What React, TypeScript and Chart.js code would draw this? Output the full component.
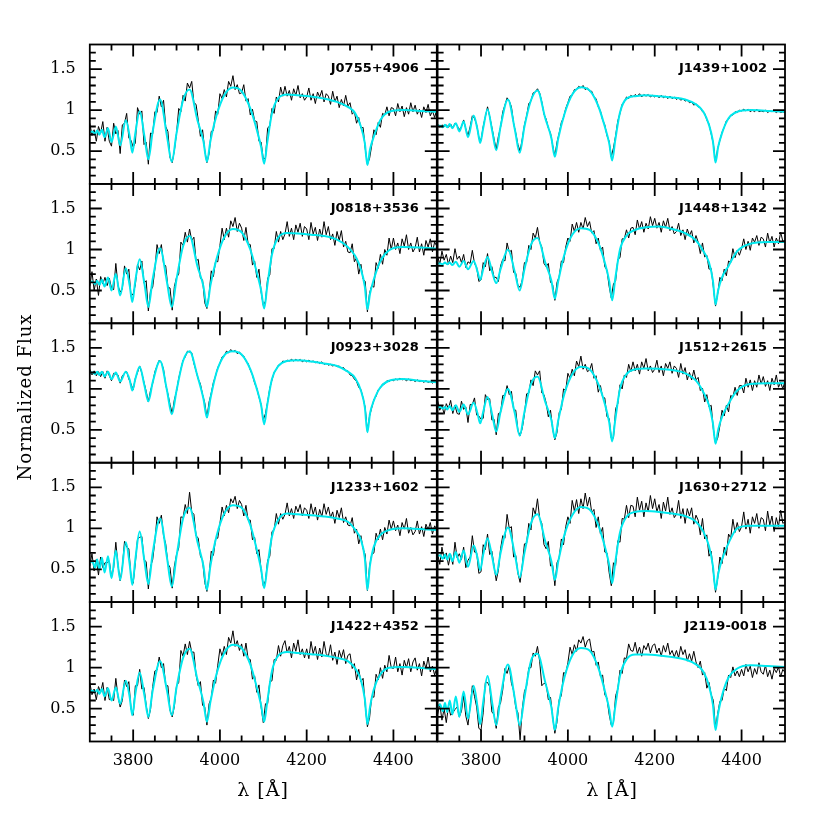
import React, { useEffect, useRef } from 'react';
import { Chart, registerables } from 'chart.js';
Chart.register(...registerables);

// ---------- data ----------
const WAVE = [
  3700, 3705, 3710, 3715, 3720, 3725, 3730, 3735, 3740, 3745,
  3750, 3755, 3760, 3765, 3770, 3775, 3780, 3785, 3790, 3795,
  3800, 3805, 3810, 3815, 3820, 3825, 3830, 3835, 3840, 3845,
  3850, 3855, 3860, 3865, 3870, 3875, 3880, 3885, 3890, 3895,
  3900, 3905, 3910, 3915, 3920, 3925, 3930, 3935, 3940, 3945,
  3950, 3955, 3960, 3965, 3970, 3975, 3980, 3985, 3990, 3995,
  4000, 4005, 4010, 4015, 4020, 4025, 4030, 4035, 4040, 4045,
  4050, 4055, 4060, 4065, 4070, 4075, 4080, 4085, 4090, 4095,
  4100, 4105, 4110, 4115, 4120, 4125, 4130, 4135, 4140, 4145,
  4150, 4155, 4160, 4165, 4170, 4175, 4180, 4185, 4190, 4195,
  4200, 4205, 4210, 4215, 4220, 4225, 4230, 4235, 4240, 4245,
  4250, 4255, 4260, 4265, 4270, 4275, 4280, 4285, 4290, 4295,
  4300, 4305, 4310, 4315, 4320, 4325, 4330, 4335, 4340, 4345,
  4350, 4355, 4360, 4365, 4370, 4375, 4380, 4385, 4390, 4395,
  4400, 4405, 4410, 4415, 4420, 4425, 4430, 4435, 4440, 4445,
  4450, 4455, 4460, 4465, 4470, 4475, 4480, 4485, 4490, 4495, 4500,
];

const MODEL_WAVE = [
  3700, 3706, 3712, 3717, 3722, 3728, 3734, 3742, 3750, 3760,
  3770, 3783, 3792, 3798, 3805, 3815, 3826, 3835, 3845, 3862,
  3878, 3889, 3900, 3915, 3930, 3948, 3962, 3970, 3978, 3992,
  4010, 4030, 4050, 4070, 4085, 4095, 4102, 4109, 4120, 4135,
  4155, 4180, 4210, 4240, 4270, 4295, 4312, 4325, 4334, 4340,
  4346, 4355, 4370, 4390, 4420, 4460, 4500,
];

const X_MAJOR = [3800, 4000, 4200, 4400];
const X_MINOR = [3750, 3850, 3900, 3950, 4050, 4100, 4150, 4250, 4300, 4350, 4450];
const Y_MAJOR = [0.5, 1, 1.5];
const Y_MINOR = [0.2, 0.3, 0.4, 0.6, 0.7, 0.8, 0.9, 1.1, 1.2, 1.3, 1.4, 1.6, 1.7];

const NAMES = [
  'J0755+4906', 'J1439+1002',
  'J0818+3536', 'J1448+1342',
  'J0923+3028', 'J1512+2615',
  'J1233+1602', 'J1630+2712',
  'J1422+4352', 'J2119-0018',
];

// J0755+4906
const FLUX_J0755 = [
  .84, .69, .76, .62, .80, .72, .86, .62, .79, .62,
  .56, .84, .71, .75, .47, .82, .84, .96, .66, .63,
  .55, .60, 1.03, .95, .99, .58, .61, .34, .72, .71,
  .98, .97, 1.17, 1.04, 1.12, .80, .74, .42, .36, .51,
  .72, 1.02, .98, 1.18, 1.11, 1.33, 1.27, 1.35, 1.09, 1.07,
  .88, .68, .76, .51, .36, .47, .74, .75, .99, .95,
  1.20, 1.14, 1.25, 1.16, 1.35, 1.29, 1.42, 1.25, 1.31, 1.20,
  1.21, 1.31, 1.11, 1.14, .94, 1.01, .87, .86, .62, .61,
  .40, .42, .78, .81, 1.02, .96, 1.16, 1.10, 1.28, 1.17,
  1.29, 1.17, 1.24, 1.12, 1.26, 1.18, 1.30, 1.15, 1.20, 1.12,
  1.16, 1.27, 1.12, 1.20, 1.08, 1.22, 1.16, 1.24, 1.10, 1.20,
  1.17, 1.07, 1.23, 1.10, 1.17, 1.03, 1.13, 1.05, 1.18, 1.05,
  1.09, .95, .98, .84, .91, .78, .79, .53, .34, .41,
  .57, .76, .70, .85, .79, .96, .94, 1.04, .93, 1.03,
  1.02, .93, 1.08, .98, 1.05, .92, 1.03, .95, 1.09, .98,
  1.06, .95, 1.01, .91, 1.04, .97, 1.07, .93, .99, .91, 1.01,
];
const MODEL_J0755 = [
  .73, .74, .71, .75, .70, .76, .67, .78, .61, .80,
  .57, .875, .68, .48, .72, .985, .68, .40, .74, 1.13,
  .68, .37, .72, 1.12, 1.25, .88, .62, .37, .62, .93,
  1.18, 1.275, 1.23, 1.02, .76, .55, .345, .60, .96, 1.15,
  1.19, 1.18, 1.165, 1.14, 1.10, 1.04, .96, .80, .60, .33,
  .52, .68, .88, .98, 1.0, .99, .98,
];

// J1439+1002
const FLUX_J1439 = [
  .83, .79, .82, .80, .82, .79, .83, .78, .84, .81,
  .76, .80, .88, .77, .69, .80, .93, .90, .82, .67,
  .63, .80, .92, 1.04, .92, .79, .65, .52, .68, .79,
  .98, 1.06, 1.15, 1.11, 1.04, .84, .72, .58, .50, .65,
  .82, .93, 1.08, 1.11, 1.21, 1.22, 1.26, 1.21, 1.10, .95,
  .89, .78, .72, .57, .44, .61, .72, .85, .91, 1.02,
  1.09, 1.17, 1.18, 1.25, 1.25, 1.29, 1.27, 1.30, 1.25, 1.27,
  1.23, 1.23, 1.16, 1.14, 1.04, .99, .88, .82, .69, .62,
  .43, .54, .69, .87, .96, 1.07, 1.10, 1.16, 1.14, 1.18,
  1.16, 1.19, 1.17, 1.20, 1.16, 1.19, 1.17, 1.19, 1.16, 1.18,
  1.16, 1.18, 1.15, 1.18, 1.15, 1.17, 1.14, 1.17, 1.14, 1.16,
  1.13, 1.15, 1.12, 1.14, 1.11, 1.12, 1.09, 1.10, 1.06, 1.08,
  1.04, 1.03, .98, .96, .88, .83, .71, .59, .37, .53,
  .63, .73, .79, .87, .89, .94, .94, .98, .97, 1.00,
  .99, 1.01, .99, 1.01, .98, 1.00, .98, 1.01, .98, .99,
  .98, 1.00, .97, .99, .98, .99, .97, .99, .97, .98, .97,
];
const MODEL_J1439 = [
  .81, .81, .79, .82, .79, .83, .78, .84, .74, .86,
  .67, .935, .76, .60, .78, 1.01, .74, .51, .80, 1.13,
  .76, .48, .80, 1.12, 1.24, .90, .66, .43, .66, .95,
  1.19, 1.28, 1.24, 1.05, .80, .60, .385, .63, .97, 1.14,
  1.17, 1.18, 1.17, 1.155, 1.13, 1.07, .98, .82, .62, .36,
  .55, .72, .90, .98, 1.0, .99, .98,
];

// J0818+3536
const FLUX_J0818 = [
  .55, .73, .50, .64, .44, .67, .58, .66, .56, .65,
  .53, .51, .83, .56, .48, .52, .80, .70, .76, .43,
  .46, .57, .82, .75, .86, .59, .62, .25, .50, .54,
  .76, 1.06, .95, 1.06, .83, .80, .54, .53, .26, .55,
  .66, .70, 1.09, 1.05, 1.21, 1.09, 1.25, 1.11, 1.15, .86,
  .88, .65, .63, .35, .28, .46, .74, .67, .86, .85,
  1.05, 1.26, 1.12, 1.26, 1.15, 1.35, 1.28, 1.39, 1.22, 1.32,
  1.26, 1.11, 1.27, 1.07, 1.06, .81, .86, .66, .76, .48,
  .32, .37, .65, .69, 1.01, 1.01, 1.22, 1.09, 1.22, 1.12,
  1.19, 1.34, 1.16, 1.26, 1.12, 1.30, 1.21, 1.32, 1.16, 1.28,
  1.25, 1.12, 1.33, 1.19, 1.27, 1.11, 1.25, 1.15, 1.34, 1.18,
  1.28, 1.12, 1.19, 1.05, 1.22, 1.11, 1.23, 1.03, 1.10, .97,
  .96, 1.07, .85, .90, .70, .82, .64, .61, .24, .47,
  .56, .54, .84, .77, .94, .82, 1.00, .93, 1.14, 1.00,
  1.14, 1.00, 1.08, .95, 1.13, 1.04, 1.18, 1.00, 1.08, .97,
  1.02, 1.15, .97, 1.07, .93, 1.11, 1.03, 1.13, .97, 1.09, 1.04,
];
const MODEL_J0818 = [
  .60, .61, .58, .62, .57, .63, .55, .66, .50, .70,
  .44, .77, .56, .36, .62, .88, .58, .30, .64, 1.015,
  .60, .30, .64, 1.04, 1.165, .80, .55, .30, .56, .88,
  1.15, 1.25, 1.21, 1.0, .72, .50, .28, .55, .94, 1.15,
  1.20, 1.195, 1.18, 1.165, 1.12, 1.03, .92, .76, .55, .27,
  .46, .64, .86, .99, 1.03, 1.025, 1.01,
];

// J1448+1342
const FLUX_J1448 = [
  .92, .82, .98, .87, .94, .82, .92, .84, 1.01, .88,
  .92, .84, .94, .78, .85, .83, .99, .83, .78, .61,
  .63, .84, .79, .95, .74, .79, .66, .66, .61, .80,
  .88, .86, 1.08, .97, .99, .72, .71, .56, .54, .63,
  .84, .84, 1.05, 1.00, 1.20, 1.14, 1.27, 1.09, 1.03, .83,
  .79, .83, .60, .57, .38, .60, .67, .86, .84, 1.03,
  1.14, 1.10, 1.31, 1.22, 1.33, 1.21, 1.33, 1.25, 1.39, 1.28,
  1.34, 1.20, 1.23, 1.07, 1.14, .99, 1.03, .79, .75, .55,
  .41, .58, .62, .88, .90, 1.13, 1.13, 1.24, 1.14, 1.26,
  1.27, 1.18, 1.36, 1.25, 1.34, 1.21, 1.32, 1.25, 1.40, 1.29,
  1.38, 1.26, 1.33, 1.21, 1.35, 1.27, 1.38, 1.23, 1.28, 1.19,
  1.22, 1.32, 1.17, 1.24, 1.12, 1.25, 1.17, 1.23, 1.08, 1.17,
  1.09, .95, 1.08, .91, .93, .76, .77, .54, .31, .46,
  .66, .62, .76, .68, .86, .84, 1.01, .90, .99, .93,
  1.01, 1.13, 1.00, 1.10, .99, 1.14, 1.09, 1.17, 1.05, 1.15,
  1.13, 1.03, 1.20, 1.08, 1.16, 1.03, 1.14, 1.07, 1.21, 1.10, 1.11,
];
const MODEL_J1448 = [
  .83, .83, .82, .84, .82, .84, .81, .85, .79, .86,
  .76, .86, .73, .63, .76, .91, .72, .59, .76, 1.0,
  .72, .50, .76, 1.06, 1.14, .84, .62, .40, .62, .94,
  1.18, 1.26, 1.24, 1.08, .84, .62, .38, .64, 1.0, 1.17,
  1.24, 1.27, 1.28, 1.25, 1.20, 1.11, .98, .84, .62, .33,
  .50, .66, .80, .98, 1.07, 1.09, 1.09,
];

// J0923+3028
const FLUX_J0923 = [
  1.24, 1.17, 1.22, 1.16, 1.21, 1.15, 1.21, 1.13, 1.22, 1.16,
  1.10, 1.19, 1.18, 1.17, 1.07, 1.16, 1.19, 1.21, 1.12, 1.06,
  .99, 1.13, 1.20, 1.28, 1.19, 1.08, .97, .84, .98, 1.07,
  1.21, 1.28, 1.35, 1.32, 1.24, 1.05, .94, .81, .70, .87,
  .97, 1.13, 1.24, 1.35, 1.39, 1.46, 1.45, 1.44, 1.31, 1.22,
  1.12, 1.06, .93, .83, .65, .84, .95, 1.08, 1.16, 1.26,
  1.31, 1.39, 1.40, 1.46, 1.44, 1.48, 1.45, 1.47, 1.43, 1.45,
  1.41, 1.40, 1.34, 1.31, 1.23, 1.17, 1.07, 1.01, .90, .81,
  .62, .70, .84, 1.01, 1.11, 1.20, 1.24, 1.29, 1.30, 1.34,
  1.33, 1.35, 1.34, 1.36, 1.34, 1.36, 1.34, 1.36, 1.33, 1.35,
  1.33, 1.35, 1.33, 1.34, 1.32, 1.33, 1.31, 1.33, 1.30, 1.31,
  1.29, 1.30, 1.28, 1.29, 1.27, 1.28, 1.25, 1.26, 1.22, 1.22,
  1.17, 1.16, 1.12, 1.09, 1.02, .99, .89, .77, .48, .67,
  .77, .87, .91, .99, 1.01, 1.06, 1.06, 1.10, 1.09, 1.11,
  1.10, 1.12, 1.11, 1.13, 1.11, 1.12, 1.10, 1.12, 1.10, 1.11,
  1.09, 1.11, 1.09, 1.10, 1.08, 1.10, 1.08, 1.09, 1.07, 1.09, 1.07,
];
const MODEL_J0923 = [
  1.20, 1.20, 1.18, 1.21, 1.17, 1.21, 1.15, 1.21, 1.12, 1.20,
  1.09, 1.21, 1.11, .98, 1.12, 1.27, 1.04, .85, 1.08, 1.34,
  .98, .69, .98, 1.34, 1.46, 1.16, .88, .65, .88, 1.20,
  1.41, 1.46, 1.42, 1.24, 1.0, .80, .57, .80, 1.12, 1.28,
  1.34, 1.35, 1.335, 1.31, 1.28, 1.21, 1.13, .98, .78, .47,
  .70, .86, 1.02, 1.10, 1.12, 1.10, 1.08,
];

// J1512+2615
const FLUX_J1512 = [
  .86, .74, .80, .69, .82, .76, .86, .70, .80, .70,
  .69, .85, .75, .78, .59, .81, .81, .89, .68, .67,
  .63, .64, .93, .87, .88, .62, .63, .44, .70, .71,
  .92, .92, 1.04, .93, .97, .75, .74, .49, .43, .52,
  .69, .94, .95, 1.11, 1.04, 1.22, 1.17, 1.22, .95, .93,
  .83, .66, .74, .51, .38, .47, .71, .75, 1.00, .98,
  1.19, 1.13, 1.24, 1.16, 1.34, 1.27, 1.40, 1.24, 1.30, 1.21,
  1.23, 1.31, 1.13, 1.16, .96, 1.04, .90, .89, .66, .64,
  .40, .40, .76, .82, 1.05, 1.00, 1.17, 1.14, 1.30, 1.21,
  1.33, 1.22, 1.30, 1.18, 1.33, 1.25, 1.37, 1.22, 1.28, 1.20,
  1.24, 1.35, 1.20, 1.28, 1.16, 1.31, 1.25, 1.33, 1.19, 1.28,
  1.25, 1.14, 1.31, 1.18, 1.26, 1.11, 1.20, 1.11, 1.23, 1.11,
  1.14, .98, 1.01, .84, .93, .78, .80, .51, .34, .40,
  .55, .74, .67, .80, .72, .92, .90, 1.02, .92, 1.04,
  1.04, .95, 1.13, 1.02, 1.11, .98, 1.10, 1.02, 1.17, 1.06,
  1.15, 1.03, 1.10, .98, 1.13, 1.05, 1.17, 1.02, 1.08, 1.00, 1.10,
];
const MODEL_J1512 = [
  .775, .78, .76, .78, .75, .79, .74, .80, .72, .81,
  .69, .83, .70, .58, .72, .90, .68, .48, .72, 1.0,
  .70, .43, .72, 1.06, 1.15, .84, .62, .40, .62, .94,
  1.18, 1.27, 1.24, 1.06, .82, .60, .36, .62, 1.0, 1.18,
  1.24, 1.25, 1.245, 1.23, 1.19, 1.10, .96, .80, .58, .33,
  .50, .66, .82, .98, 1.06, 1.07, 1.07,
];

// J1233+1602
const FLUX_J1233 = [
  .54, .69, .48, .62, .43, .65, .52, .58, .58, .60,
  .41, .52, .83, .55, .36, .53, .84, .77, .75, .41,
  .33, .58, .87, .89, .90, .62, .59, .26, .53, .62,
  .84, 1.14, 1.06, 1.16, .91, .81, .57, .52, .27, .54,
  .68, .76, 1.14, 1.13, 1.29, 1.18, 1.44, 1.20, 1.17, .91,
  .88, .66, .61, .34, .23, .43, .72, .67, .87, .88,
  1.06, 1.26, 1.15, 1.28, 1.19, 1.36, 1.31, 1.39, 1.24, 1.34,
  1.29, 1.15, 1.28, 1.10, 1.10, .86, .89, .69, .74, .49,
  .30, .36, .61, .66, .96, .98, 1.18, 1.05, 1.18, 1.11,
  1.17, 1.31, 1.15, 1.24, 1.12, 1.27, 1.20, 1.29, 1.15, 1.25,
  1.22, 1.12, 1.30, 1.17, 1.26, 1.10, 1.23, 1.14, 1.30, 1.17,
  1.26, 1.13, 1.20, 1.06, 1.22, 1.13, 1.25, 1.07, 1.14, 1.04,
  1.03, 1.13, .94, .99, .81, .91, .75, .68, .24, .54,
  .68, .70, .94, .86, .99, .86, 1.01, .93, 1.10, .99,
  1.09, .97, 1.04, .91, 1.07, .99, 1.12, .94, 1.01, .92,
  .96, 1.09, .93, 1.02, .90, 1.05, .98, 1.07, .93, 1.03, .99,
];
const MODEL_J1233 = [
  .575, .60, .52, .62, .50, .64, .46, .66, .39, .73,
  .37, .83, .56, .31, .62, .96, .60, .32, .70, 1.12,
  .64, .29, .66, 1.12, 1.25, .84, .54, .25, .54, .90,
  1.18, 1.28, 1.25, 1.04, .74, .50, .27, .52, .90, 1.11,
  1.18, 1.17, 1.16, 1.145, 1.12, 1.08, .98, .86, .64, .25,
  .55, .78, .92, .98, 1.0, .99, .98,
];

// J1630+2712
const FLUX_J1630 = [
  .69, .56, .77, .63, .70, .55, .68, .56, .83, .64,
  .69, .62, .77, .52, .61, .65, .91, .71, .70, .45,
  .47, .80, .74, .93, .68, .72, .54, .36, .49, .75,
  .91, .88, 1.17, 1.00, 1.02, .65, .67, .45, .34, .55,
  .81, .82, 1.06, .98, 1.25, 1.17, 1.36, 1.12, 1.06, .80,
  .75, .84, .54, .55, .30, .58, .64, .87, .80, 1.02,
  1.14, 1.06, 1.34, 1.21, 1.35, 1.18, 1.36, 1.24, 1.43, 1.27,
  1.38, 1.19, 1.23, 1.01, 1.14, .93, 1.01, .71, .70, .46,
  .30, .58, .55, .85, .83, 1.12, 1.11, 1.28, 1.13, 1.28,
  1.27, 1.14, 1.38, 1.22, 1.33, 1.14, 1.31, 1.20, 1.40, 1.24,
  1.36, 1.20, 1.29, 1.12, 1.32, 1.21, 1.38, 1.17, 1.25, 1.13,
  1.17, 1.34, 1.12, 1.24, 1.06, 1.24, 1.15, 1.25, 1.05, 1.16,
  1.10, .92, 1.12, .87, .92, .66, .72, .46, .22, .39,
  .65, .57, .77, .67, .93, .88, 1.11, .95, 1.07, .96,
  1.02, 1.20, .99, 1.11, .94, 1.14, 1.06, 1.18, 1.00, 1.13,
  1.11, .97, 1.21, 1.04, 1.15, .96, 1.13, 1.02, 1.22, 1.06, 1.08,
];
const MODEL_J1630 = [
  .66, .67, .63, .68, .62, .69, .60, .71, .58, .73,
  .53, .79, .64, .49, .68, .88, .64, .43, .70, 1.01,
  .68, .40, .70, 1.06, 1.17, .84, .60, .37, .60, .92,
  1.16, 1.26, 1.23, 1.04, .78, .56, .33, .58, .95, 1.14,
  1.20, 1.21, 1.20, 1.18, 1.15, 1.08, .96, .78, .54, .25,
  .44, .62, .82, 1.0, 1.03, 1.03, 1.03,
];

// J1422+4352
const FLUX_J1422 = [
  .82, .67, .74, .61, .77, .70, .82, .60, .76, .61,
  .62, .60, .87, .65, .52, .60, .85, .77, .83, .50,
  .42, .78, .78, .98, .74, .76, .54, .38, .49, .77,
  .96, .97, 1.13, 1.00, 1.05, .78, .78, .48, .40, .53,
  .78, .82, 1.21, 1.14, 1.29, 1.16, 1.32, 1.19, 1.19, .91,
  .78, .83, .54, .52, .30, .56, .63, .85, .81, 1.03,
  1.23, 1.14, 1.26, 1.16, 1.37, 1.30, 1.45, 1.26, 1.33, 1.21,
  1.29, 1.14, 1.30, 1.11, 1.10, .86, .90, .70, .79, .52,
  .33, .56, .56, .83, .84, 1.10, 1.09, 1.27, 1.14, 1.27,
  1.33, 1.18, 1.26, 1.12, 1.30, 1.20, 1.34, 1.16, 1.23, 1.12,
  1.23, 1.11, 1.32, 1.17, 1.26, 1.10, 1.24, 1.13, 1.32, 1.17,
  1.14, 1.28, 1.09, 1.19, 1.04, 1.21, 1.12, 1.22, 1.05, 1.15,
  1.17, .99, 1.05, .85, .98, .83, .87, .54, .28, .39,
  .65, .64, .92, .85, 1.00, .87, 1.03, .95, 1.15, 1.00,
  .99, 1.13, .95, 1.05, .91, 1.09, 1.00, 1.11, .95, 1.07,
  1.12, .97, 1.05, .90, 1.08, .99, 1.13, .95, 1.02, .91, 1.00,
];
const MODEL_J1422 = [
  .72, .72, .70, .73, .68, .74, .65, .75, .60, .76,
  .56, .84, .64, .42, .68, .94, .66, .40, .72, 1.08,
  .72, .42, .76, 1.12, 1.23, .86, .58, .34, .58, .92,
  1.18, 1.28, 1.24, 1.04, .76, .54, .34, .58, .96, 1.15,
  1.19, 1.18, 1.165, 1.15, 1.12, 1.08, .99, .85, .62, .31,
  .52, .74, .92, 1.0, 1.01, 1.0, .98,
];

// J2119-0018
const FLUX_J2119 = [
  .43, .56, .36, .50, .33, .53, .42, .45, .49, .52,
  .40, .47, .66, .41, .30, .53, .78, .65, .52, .26,
  .24, .45, .82, .82, .77, .46, .43, .26, .52, .57,
  .73, .99, .93, 1.02, .81, .72, .51, .45, .12, .50,
  .71, .78, 1.00, 1.00, 1.18, 1.14, 1.26, 1.08, .78, .81,
  .80, .61, .64, .40, .20, .34, .61, .66, .94, .93,
  1.06, 1.25, 1.16, 1.28, 1.20, 1.34, 1.30, 1.38, 1.25, 1.33,
  1.35, 1.19, 1.20, 1.03, 1.07, .89, .91, .67, .63, .43,
  .30, .33, .66, .74, .97, .93, 1.12, 1.11, 1.29, 1.21,
  1.20, 1.31, 1.17, 1.25, 1.14, 1.27, 1.22, 1.30, 1.18, 1.27,
  1.29, 1.18, 1.24, 1.14, 1.27, 1.19, 1.30, 1.16, 1.21, 1.13,
  1.21, 1.12, 1.26, 1.16, 1.22, 1.08, 1.17, 1.08, 1.20, 1.07,
  1.00, 1.08, .91, .94, .75, .82, .67, .60, .26, .44,
  .59, .60, .75, .72, .91, .88, 1.01, .90, .96, .89,
  .98, .90, 1.04, .95, 1.02, .88, .99, .92, 1.06, .95,
  .92, 1.03, .89, .97, .86, .99, .94, 1.01, .89, .98, .94,
];
const MODEL_J2119 = [
  .53, .55, .47, .57, .46, .60, .43, .65, .40, .71,
  .38, .78, .52, .31, .58, .90, .56, .30, .64, 1.04,
  .62, .30, .64, 1.08, 1.17, .82, .52, .24, .52, .88,
  1.15, 1.24, 1.21, 1.0, .72, .50, .28, .52, .90, 1.10,
  1.16, 1.16, 1.15, 1.13, 1.10, 1.04, .95, .78, .55, .24,
  .44, .66, .88, .99, 1.03, 1.02, 1.01,
];

const FLUXES = [
  FLUX_J0755, FLUX_J1439, FLUX_J0818, FLUX_J1448, FLUX_J0923,
  FLUX_J1512, FLUX_J1233, FLUX_J1630, FLUX_J1422, FLUX_J2119,
];
const MODELS = [
  MODEL_J0755, MODEL_J1439, MODEL_J0818, MODEL_J1448, MODEL_J0923,
  MODEL_J1512, MODEL_J1233, MODEL_J1630, MODEL_J1422, MODEL_J2119,
];

// ---------- layout ----------
const X_MIN = 3700;
const X_MAX = 4500;
const Y_MIN = 0.1;
const Y_MAX = 1.8;
const COL_L = [89.8, 437.6];
const COL_R = [436.8, 785];
const ROW_TOP = 44.5;
const ROW_H = 139.4;
const Y_AXIS_W = 62;
const X_AXIS_H = 44;
const TICK_FONT = { family: "'DejaVu Serif', serif", size: 16 };
const CYAN = 'rgb(0, 232, 238)';

const frameTicksPlugin = {
  id: 'frameTicks',
  afterDatasetsDraw(chart: any) {
    const { ctx, chartArea: a, scales } = chart;
    const xs = scales.x;
    const ys = scales.y;
    ctx.save();
    ctx.strokeStyle = '#000';
    ctx.lineWidth = 1.8;
    ctx.lineCap = 'butt';
    ctx.strokeRect(a.left, a.top, a.right - a.left, a.bottom - a.top);
    ctx.beginPath();
    const xTick = (v: number, len: number) => {
      const px = xs.getPixelForValue(v);
      ctx.moveTo(px, a.bottom);
      ctx.lineTo(px, a.bottom - len);
      ctx.moveTo(px, a.top);
      ctx.lineTo(px, a.top + len);
    };
    const yTick = (v: number, len: number) => {
      const py = ys.getPixelForValue(v);
      ctx.moveTo(a.left, py);
      ctx.lineTo(a.left + len, py);
      ctx.moveTo(a.right, py);
      ctx.lineTo(a.right - len, py);
    };
    X_MAJOR.forEach((v) => xTick(v, 12));
    X_MINOR.forEach((v) => xTick(v, 6));
    Y_MAJOR.forEach((v) => yTick(v, 12));
    Y_MINOR.forEach((v) => yTick(v, 6));
    ctx.stroke();
    ctx.restore();
  },
};

function Panel({ idx }: { idx: number }) {
  const ref = useRef<HTMLCanvasElement>(null);
  const col = idx % 2;
  const row = Math.floor(idx / 2);
  const isLeft = col === 0;
  const isBottom = row === 4;
  const yW = isLeft ? Y_AXIS_W : 0;
  const xH = isBottom ? X_AXIS_H : 0;
  const L = COL_L[col];
  const R = COL_R[col];
  const T = ROW_TOP + row * ROW_H;
  const B = T + ROW_H;
  const cl = Math.floor(L - yW - 3);
  const ct = Math.floor(T - 3);
  const cr = Math.ceil(R + 3);
  const cb = Math.ceil(B + xH + 3);
  const cw = cr - cl;
  const ch = cb - ct;

  useEffect(() => {
    if (!ref.current) return;
    const flux = FLUXES[idx];
    const model = MODELS[idx];
    const chart = new Chart(ref.current, {
      type: 'line',
      data: {
        datasets: [
          {
            label: 'model',
            data: MODEL_WAVE.map((w, i) => ({ x: w, y: model[i] })),
            borderColor: CYAN,
            borderWidth: 2,
            pointRadius: 0,
            cubicInterpolationMode: 'monotone',
            fill: false,
          },
          {
            label: 'data',
            data: WAVE.map((w, i) => ({ x: w, y: flux[i] })),
            borderColor: '#000',
            borderWidth: 1,
            pointRadius: 0,
            tension: 0,
            fill: false,
          },
        ],
      },
      options: {
        responsive: false,
        animation: false,
        devicePixelRatio: 1,
        events: [],
        layout: {
          padding: {
            left: L - yW - cl,
            right: cr - R,
            top: T - ct,
            bottom: cb - B - xH,
          },
        },
        plugins: { legend: { display: false }, tooltip: { enabled: false } },
        scales: {
          x: {
            type: 'linear',
            min: X_MIN,
            max: X_MAX,
            display: isBottom,
            grid: { display: false, drawTicks: false },
            border: { display: false },
            afterBuildTicks: (s: any) => {
              s.ticks = X_MAJOR.map((v) => ({ value: v }));
            },
            afterFit: (s: any) => {
              s.height = xH;
              s.paddingLeft = 0;
              s.paddingRight = 0;
              s.paddingTop = 0;
              s.paddingBottom = 0;
            },
            ticks: {
              font: TICK_FONT,
              color: '#000',
              padding: 10,
              maxRotation: 0,
              autoSkip: false,
              callback: (v: any) => String(v),
            },
          },
          y: {
            type: 'linear',
            min: Y_MIN,
            max: Y_MAX,
            display: isLeft,
            grid: { display: false, drawTicks: false },
            border: { display: false },
            afterBuildTicks: (s: any) => {
              s.ticks = Y_MAJOR.map((v) => ({ value: v }));
            },
            afterFit: (s: any) => {
              s.width = yW;
              s.paddingLeft = 0;
              s.paddingRight = 0;
              s.paddingTop = 0;
              s.paddingBottom = 0;
            },
            ticks: {
              font: TICK_FONT,
              color: '#000',
              padding: 14,
              autoSkip: false,
              callback: (v: any) => String(v),
            },
          },
        },
      } as any,
      plugins: [frameTicksPlugin],
    });
    return () => chart.destroy();
  }, [idx]);

  return (
    <>
      <canvas
        ref={ref}
        width={cw}
        height={ch}
        style={{ position: 'absolute', left: cl, top: ct, width: cw, height: ch }}
      />
      <div
        style={{
          position: 'absolute',
          right: 830 - (R - 18),
          top: T + 23.8 - 9,
          height: 18,
          lineHeight: '18px',
          fontFamily: "'DejaVu Sans', sans-serif",
          fontWeight: 'bold',
          fontSize: 13,
          color: '#000',
          whiteSpace: 'nowrap',
        }}
      >
        {NAMES[idx]}
      </div>
    </>
  );
}

export default function App() {
  return (
    <div
      style={{
        position: 'absolute',
        left: 0,
        top: 0,
        width: 830,
        height: 830,
        background: '#fff',
        overflow: 'hidden',
      }}
    >
      {NAMES.map((_, i) => (
        <Panel key={i} idx={i} />
      ))}
      <div
        style={{
          position: 'absolute',
          left: 25 - 100,
          top: 397 - 12,
          width: 200,
          height: 24,
          lineHeight: '24px',
          textAlign: 'center',
          transform: 'rotate(-90deg)',
          fontFamily: "'DejaVu Serif', serif",
          fontSize: 18,
          letterSpacing: '1px',
          color: '#000',
          whiteSpace: 'nowrap',
        }}
      >
        Normalized Flux
      </div>
      <div
        style={{
          position: 'absolute',
          left: 263 - 50,
          top: 789 - 12,
          width: 100,
          height: 24,
          lineHeight: '24px',
          textAlign: 'center',
          fontFamily: "'DejaVu Serif', serif",
          fontSize: 19,
          letterSpacing: '1px',
          color: '#000',
          whiteSpace: 'nowrap',
        }}
      >
        λ [Å]
      </div>
      <div
        style={{
          position: 'absolute',
          left: 612 - 50,
          top: 789 - 12,
          width: 100,
          height: 24,
          lineHeight: '24px',
          textAlign: 'center',
          fontFamily: "'DejaVu Serif', serif",
          fontSize: 19,
          letterSpacing: '1px',
          color: '#000',
          whiteSpace: 'nowrap',
        }}
      >
        λ [Å]
      </div>
    </div>
  );
}
